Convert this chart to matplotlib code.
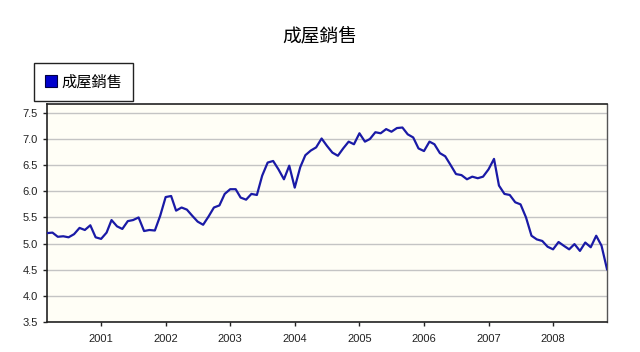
import numpy as np
import pandas as pd
import matplotlib
matplotlib.use("Agg")
import matplotlib.pyplot as plt
import matplotlib.dates as mdates
from matplotlib.lines import Line2D

plt.rcParams['font.family'] = ['Liberation Sans', 'Noto Sans CJK TC', 'DejaVu Sans']

# monthly series, Mar 2000 .. Nov 2008
start_month = "2000-03"
sales = [
    5.20, 5.21, 5.13, 5.14, 5.12, 5.18, 5.30, 5.26, 5.35, 5.12,   # 2000
    5.09, 5.21, 5.45, 5.33, 5.28, 5.43, 5.45, 5.50, 5.24, 5.26, 5.25, 5.53,   # 2001
    5.89, 5.91, 5.63, 5.69, 5.65, 5.53, 5.42, 5.36, 5.52, 5.69, 5.73, 5.95,   # 2002
    6.04, 6.04, 5.88, 5.84, 5.95, 5.93, 6.30, 6.55, 6.58, 6.42, 6.23, 6.49,   # 2003
    6.07, 6.46, 6.69, 6.78, 6.84, 7.01, 6.87, 6.74, 6.68, 6.82, 6.95, 6.90,   # 2004
    7.11, 6.95, 7.00, 7.13, 7.11, 7.19, 7.14, 7.21, 7.22, 7.09, 7.03, 6.82,   # 2005
    6.77, 6.95, 6.90, 6.73, 6.67, 6.50, 6.33, 6.31, 6.23, 6.28, 6.25, 6.28,   # 2006
    6.42, 6.62, 6.11, 5.95, 5.93, 5.79, 5.75, 5.50, 5.15, 5.08, 5.05, 4.94,   # 2007
    4.89, 5.03, 4.96, 4.89, 4.99, 4.86, 5.02, 4.93, 5.15, 4.96, 4.51,         # 2008
]
series_name = "成屋銷售"
y_ticks = [3.5, 4.0, 4.5, 5.0, 5.5, 6.0, 6.5, 7.0, 7.5]

dates = pd.date_range(start_month, periods=len(sales), freq="MS")

W, H = 640, 352
fig = plt.figure(figsize=(W / 100, H / 100), dpi=100)
fig.patch.set_facecolor("white")
ax = fig.add_axes([47 / W, 1 - 322 / H, (607 - 47) / W, (322 - 104) / H])
ax.set_facecolor("#fffef6")

line_color = "#1a1aa6"
ax.plot(dates, sales, color=line_color, lw=1.6, solid_joinstyle="round", zorder=3)

ax.set_xlim(dates[0], dates[-1])
ax.set_ylim(3.5, 7.67)
ax.set_yticks(y_ticks)
ax.set_yticklabels([f"{v:.1f}" for v in y_ticks])
ax.xaxis.set_major_locator(mdates.YearLocator())
ax.xaxis.set_major_formatter(mdates.DateFormatter("%Y"))

ax.grid(axis="y", color="#c4c4c4", lw=1.0, zorder=1)
ax.tick_params(axis="both", labelsize=8, colors="#222222", length=3, width=1, direction="out")
ax.tick_params(axis="x", pad=6)

for side in ["left", "bottom", "top"]:
    ax.spines[side].set_color("#222222")
    ax.spines[side].set_linewidth(1.2)
ax.spines["right"].set_color("#555555")
ax.spines["right"].set_linewidth(1.0)

fig.text(0.5, 1 - 36 / H, series_name, ha="center", va="center", fontsize=13.5,
         family=["Noto Sans CJK TC", "DejaVu Sans"])

handle = Line2D([], [], marker="s", ls="none", markersize=8,
                markerfacecolor="#0000cc", markeredgecolor="#000044", markeredgewidth=0.8)
leg = fig.legend([handle], [series_name], loc="upper left",
                 bbox_to_anchor=(34 / W, 1 - 63 / H), borderaxespad=0,
                 fancybox=False, framealpha=1, edgecolor="#222222",
                 handlelength=0.8, handletextpad=0.3, borderpad=0.7,
                 prop={"family": ["Noto Sans CJK TC", "DejaVu Sans"], "size": 11})
leg.get_frame().set_linewidth(1.0)

fig.savefig("out.png", dpi=100)
